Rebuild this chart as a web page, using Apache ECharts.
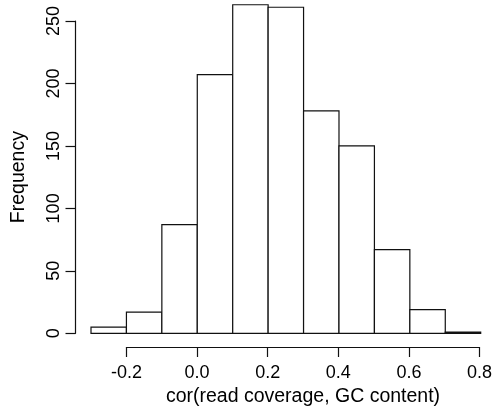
<!DOCTYPE html>
<html>
<head>
<meta charset="utf-8">
<script src="https://cdn.jsdelivr.net/npm/echarts@6/dist/echarts.min.js"></script>
<style>html,body{margin:0;padding:0;background:#fff}#c{width:495px;height:414px}</style>
</head>
<body>
<div id="c"></div>
<script>
var binStarts = [-0.3, -0.2, -0.1, 0.0, 0.1, 0.2, 0.3, 0.4, 0.5, 0.6, 0.7];
var binEnds   = [-0.2, -0.1, 0.0, 0.1, 0.2, 0.3, 0.4, 0.5, 0.6, 0.7, 0.8];
var counts    = [5, 17, 87, 207, 263, 261, 178, 150, 67, 19, 1];
var xTickMin = -0.2, xTickMax = 0.8, xTickStep = 0.2;
var yTickMin = 0, yTickMax = 250, yTickStep = 50;
var xLabel = 'cor(read coverage, GC content)';
var yLabel = 'Frequency';

var histData = binStarts.map(function (s, i) { return [s, binEnds[i], counts[i]]; });
var FONT = 'Liberation Sans, Arial, Helvetica, sans-serif';

var chart = echarts.init(document.getElementById('c'), null, {renderer: 'canvas'});
chart.setOption({
  animation: false,
  backgroundColor: '#fff',
  grid: [
    {left: 91, right: 14.3, top: 21, bottom: 80.7},
    {left: 126.5, right: 14.3, top: 21, bottom: 67},
    {left: 75.5, width: 10, top: 21, bottom: 80.7}
  ],
  xAxis: [
    {gridIndex: 0, type: 'value', min: binStarts[0], max: binEnds[binEnds.length - 1], show: false},
    {gridIndex: 1, type: 'value', min: xTickMin, max: xTickMax, interval: xTickStep,
      axisLine: {show: true, lineStyle: {color: '#111', width: 1.2}},
      axisTick: {show: true, inside: false, length: 10, lineStyle: {color: '#111', width: 1.2}},
      axisLabel: {show: true, margin: 17, fontFamily: FONT, fontSize: 18, color: '#000',
        formatter: function (v) { return v.toFixed(1); }},
      splitLine: {show: false},
      name: xLabel, nameLocation: 'middle', nameGap: 30,
      nameTextStyle: {fontFamily: FONT, fontSize: 19.5, color: '#000'}
    },
    {gridIndex: 2, type: 'value', show: false}
  ],
  yAxis: [
    {gridIndex: 0, type: 'value', min: yTickMin, max: yTickMax, show: false},
    {gridIndex: 1, type: 'value', show: false},
    {gridIndex: 2, type: 'value', min: yTickMin, max: yTickMax, interval: yTickStep,
      axisLine: {show: true, lineStyle: {color: '#111', width: 1.2}},
      axisTick: {show: true, inside: false, length: 10, lineStyle: {color: '#111', width: 1.2}},
      axisLabel: {show: true, rotate: 90, margin: 12, fontFamily: FONT, fontSize: 18, color: '#000'},
      splitLine: {show: false},
      name: yLabel, nameLocation: 'middle', nameGap: 47, nameRotate: 90,
      nameTextStyle: {fontFamily: FONT, fontSize: 19.5, color: '#000'}
    }
  ],
  series: [{
    type: 'custom',
    xAxisIndex: 0, yAxisIndex: 0,
    clip: false,
    data: histData,
    renderItem: function (params, api) {
      var p0 = api.coord([api.value(0), api.value(2)]);
      var p1 = api.coord([api.value(1), 0]);
      return {
        type: 'rect',
        shape: {x: p0[0], y: p0[1], width: p1[0] - p0[0], height: p1[1] - p0[1]},
        style: {fill: '#fff', stroke: '#111', lineWidth: 1.2}
      };
    }
  }]
});
</script>
</body>
</html>
